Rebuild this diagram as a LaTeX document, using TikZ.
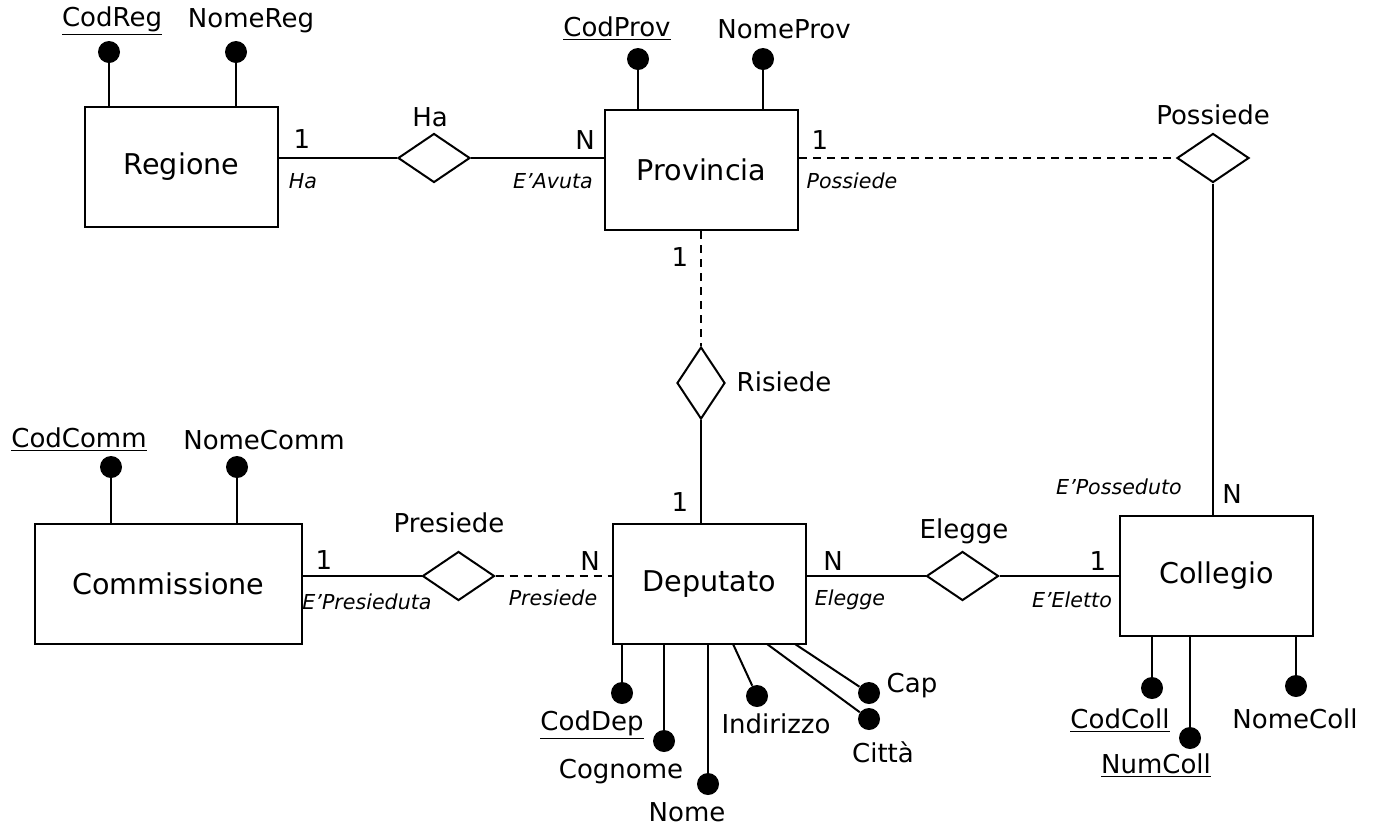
\documentclass[tikz,border=0pt]{standalone}
\usepackage{fontspec}
\setmainfont{DejaVu Sans}
\usetikzlibrary{shapes.geometric}

\begin{document}
\begin{tikzpicture}[x=0.5pt,y=-0.5pt,
  entity/.style={draw,line width=1pt,minimum width=96.5pt,minimum height=60pt,inner sep=0pt,font=\fontsize{14.3}{17}\selectfont},
  rel/.style={draw,diamond,line width=1pt,minimum width=36pt,minimum height=24.5pt,inner sep=0pt},
  vrel/.style={rel,minimum width=24pt,minimum height=36pt},
  dot/.style={circle,fill=black,minimum size=11pt,inner sep=0pt},
  lbl/.style={inner sep=0pt,font=\fontsize{13}{15}\selectfont},
  role/.style={inner sep=0pt,font=\fontsize{10.3}{12}\selectfont\itshape},
  link/.style={line width=1pt},
  optlink/.style={line width=1pt,dash pattern=on 4pt off 3pt}]
\fill[white] (0,0) rectangle (1374,826);
\useasboundingbox (0,0) rectangle (1374,826);

\node[entity] (reg) at (181.5,166.5) {Regione};
\node[entity] (prov) at (701.5,170) {Provincia};
\node[entity,minimum width=133.5pt] (comm) at (168.5,583.5) {Commissione};
\node[entity] (dep) at (709.5,584) {Deputato};
\node[entity] (coll) at (1216.5,576) {Collegio};

\node[rel] (ha) at (434,158) {};
\node[rel] (poss) at (1213,158) {};
\node[rel] (pres) at (458.5,576) {};
\node[rel] (eleg) at (962.5,576) {};
\node[vrel] (ris) at (701,383) {};

\node[lbl] (tHa) at (430,117) {Ha};
\node[lbl] (tPoss) at (1213,115) {Possiede};
\node[lbl] (tPres) at (449,523) {Presiede};
\node[lbl] (tEleg) at (964,531) {Elegge};
\node[lbl] (tRis) at (784,382) {Risiede};

\draw[link] (ha.west -| reg.east) -- (ha.west);
\draw[link] (ha.east) -- (ha.east -| prov.west);
\draw[optlink] (poss.west -| prov.east) -- (poss.west);
\draw[link] (poss.south) -- (poss.south |- coll.north);
\draw[optlink] (ris.north |- prov.south) -- (ris.north);
\draw[link] (ris.south) -- (ris.south |- dep.north);
\draw[link] (pres.west -| comm.east) -- (pres.west);
\draw[optlink] (pres.east) -- (pres.east -| dep.west);
\draw[link] (eleg.west -| dep.east) -- (eleg.west);
\draw[link] (eleg.east) -- (eleg.east -| coll.west);

\node[lbl] (c1) at (302,139) {1};
\node[role] (r1) at (303,181) {Ha};
\node[lbl] (c2) at (585,140) {N};
\node[role] (r2) at (553,181) {E’Avuta};
\node[lbl] (c3) at (820,140) {1};
\node[role] (r3) at (852,181) {Possiede};
\node[lbl] (c4) at (680,257) {1};
\node[lbl] (c5) at (680,502) {1};
\node[lbl] (c6) at (1232,494) {N};
\node[role] (r6) at (1119,487) {E’Posseduto};
\node[lbl] (c7) at (324,560) {1};
\node[role] (r7) at (367,602) {E’Presieduta};
\node[lbl] (c8) at (590,561) {N};
\node[role] (r8) at (553,598) {Presiede};
\node[lbl] (c9) at (833,561) {N};
\node[role] (r9) at (850,600) {Elegge};
\node[lbl] (c10) at (1098,561) {1};
\node[role] (r10) at (1072,600) {E’Eletto};

\node[dot] (dCodReg) at (109,52) {};
\node[dot] (dNomeReg) at (236,52) {};
\node[lbl] (tCodReg) at (112,21) {\underline{CodReg}};
\node[lbl] (tNomeReg) at (251,21) {NomeReg};
\draw[link] (dCodReg) -- (dCodReg |- reg.north);
\draw[link] (dNomeReg) -- (dNomeReg |- reg.north);

\node[dot] (dCodProv) at (638,59) {};
\node[dot] (dNomeProv) at (763,59) {};
\node[lbl] (tCodProv) at (617,29) {\underline{CodProv}};
\node[lbl] (tNomeProv) at (784,29) {NomeProv};
\draw[link] (dCodProv) -- (dCodProv |- prov.north);
\draw[link] (dNomeProv) -- (dNomeProv |- prov.north);

\node[dot] (dCodComm) at (111,467) {};
\node[dot] (dNomeComm) at (237,467) {};
\node[lbl] (tCodComm) at (79,440) {\underline{CodComm}};
\node[lbl] (tNomeComm) at (264,440) {NomeComm};
\draw[link] (dCodComm) -- (dCodComm |- comm.north);
\draw[link] (dNomeComm) -- (dNomeComm |- comm.north);

\node[dot] (dCodDep) at (622,693) {};
\node[dot] (dCognome) at (664,741) {};
\node[dot] (dNome) at (708,784) {};
\node[dot] (dInd) at (757,696) {};
\node[dot] (dCap) at (869,693) {};
\node[dot] (dCitta) at (869,719) {};
\node[lbl] (tCodDep) at (592,725) {\underline{CodDep}};
\node[lbl] (tCognome) at (621,772) {Cognome};
\node[lbl] (tNome) at (687,812) {Nome};
\node[lbl] (tInd) at (776,724) {Indirizzo};
\node[lbl] (tCap) at (912,686) {Cap};
\node[lbl] (tCitta) at (883,752) {Città};
\coordinate (aInd) at (733,644);
\coordinate (aCitta) at (767,644);
\coordinate (aCap) at (795,644);
\draw[link] (dCodDep) -- (dCodDep |- dep.south);
\draw[link] (dCognome) -- (dCognome |- dep.south);
\draw[link] (dNome) -- (dNome |- dep.south);
\draw[link] (aInd) -- (dInd);
\draw[link] (aCitta) -- (dCitta);
\draw[link] (aCap) -- (dCap);

\node[dot] (dCodColl) at (1152,688) {};
\node[dot] (dNumColl) at (1190,738) {};
\node[dot] (dNomeColl) at (1296,686) {};
\node[lbl] (tCodColl) at (1120,721) {\underline{CodColl}};
\node[lbl] (tNumColl) at (1156,766) {\underline{NumColl}};
\node[lbl] (tNomeColl) at (1295,719) {NomeColl};
\draw[link] (dCodColl) -- (dCodColl |- coll.south);
\draw[link] (dNumColl) -- (dNumColl |- coll.south);
\draw[link] (dNomeColl) -- (dNomeColl |- coll.south);
\end{tikzpicture}
\end{document}
